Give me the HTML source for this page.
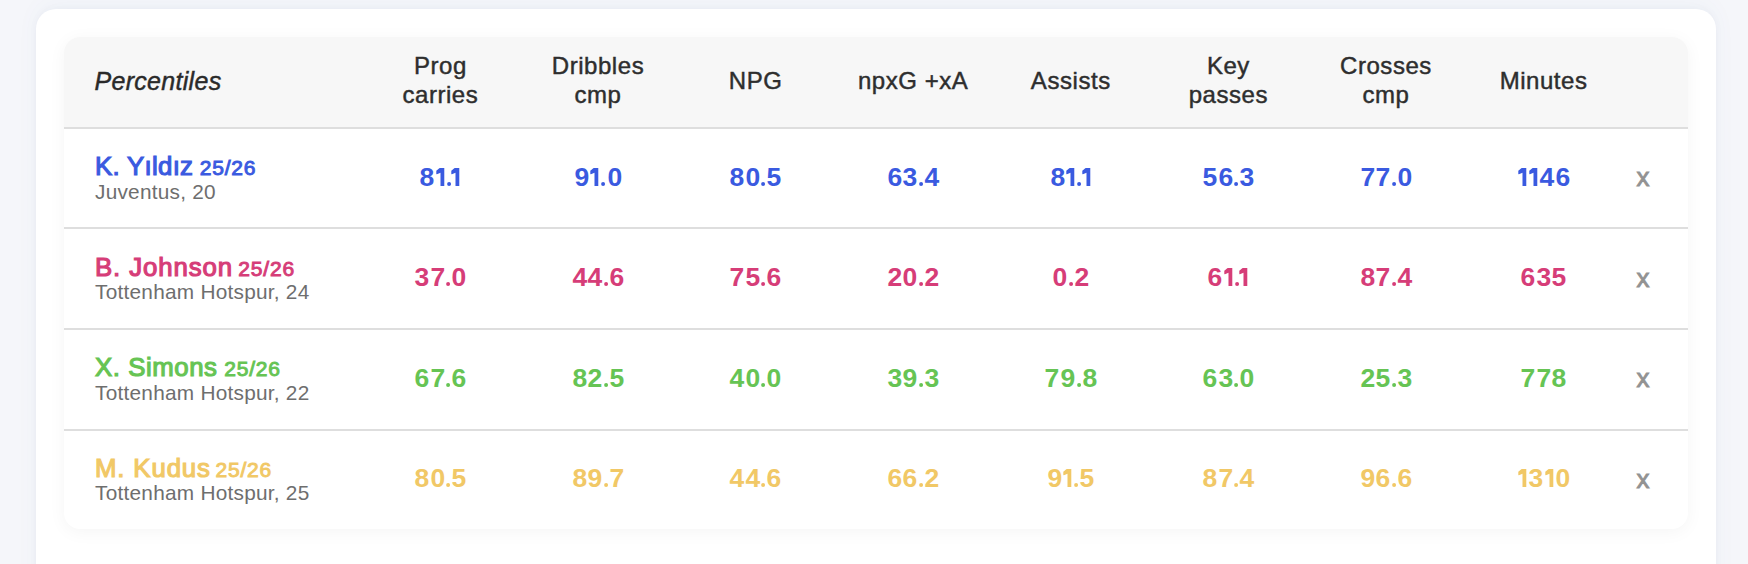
<!DOCTYPE html>
<html><head><meta charset="utf-8">
<style>
*{box-sizing:border-box;margin:0;padding:0}
html,body{width:1748px;height:564px;overflow:hidden}
body{background:#f5f6fa;font-family:"Liberation Sans",sans-serif;position:relative}
.outer{position:absolute;left:36px;top:9px;width:1680px;height:640px;background:#fff;border-radius:20px;box-shadow:0 0 8px rgba(40,40,90,0.035),0 -6px 24px rgba(30,120,170,0.035)}
.tbl{position:absolute;left:64px;top:37px;width:1624px;height:491.5px;background:#fff;border-radius:16px;overflow:hidden;box-shadow:0 3px 18px rgba(0,0,0,0.045)}
.hd{position:absolute;left:0;top:0;width:1624px;height:90px;background:#f7f7f7}
.ln{position:absolute;left:0;width:1624px;height:2px;background:#dedede}
.t{position:absolute;white-space:nowrap}
.h{font-size:24px;line-height:28.8px;color:#2e2e2e;text-align:center;width:157.6px;letter-spacing:0.55px;-webkit-text-stroke:0.45px #2e2e2e}
.pct{font-style:italic;font-size:25px;letter-spacing:0.3px;color:#2a2a2a;left:30.5px;line-height:30px;-webkit-text-stroke:0.45px #2a2a2a}
.nm{left:31px;font-size:25.8px;font-weight:400;-webkit-text-stroke:1.15px currentColor;letter-spacing:0.55px;line-height:30px}
.nm .s{font-size:21px;font-weight:400;-webkit-text-stroke:0.95px currentColor;letter-spacing:0.8px;margin-left:-1px}
.cl{left:31px;font-size:20.8px;letter-spacing:0.25px;color:#6e6e6e;line-height:24px}
.v{font-size:25px;font-weight:700;text-align:center;width:157.6px;line-height:30px}
.v .d{display:inline-block;width:15.6px;text-align:center;transform:scaleX(1.06)}
.v .p{display:inline-block;width:6.2px;text-align:center}
.v .o{fill:currentColor;vertical-align:baseline}
.x{font-size:26px;font-weight:400;-webkit-text-stroke:0.85px #929292;color:#929292;width:40px;text-align:center;line-height:30px}
.c1{color:#3a5ae0}.c2{color:#d63d78}.c3{color:#66c454}.c4{color:#f1c866}
</style></head><body>
<div class="outer"></div>
<div class="tbl">
 <div class="hd">
 <div class="t pct" style="top:28.64px">Percentiles</div>
 <div class="t h" style="left:297.60px;top:15.08px">Prog<br>carries</div>
 <div class="t h" style="left:455.20px;top:15.08px">Dribbles<br>cmp</div>
 <div class="t h" style="left:612.80px;top:30.48px">NPG</div>
 <div class="t h" style="left:770.40px;top:30.48px">npxG +xA</div>
 <div class="t h" style="left:928.00px;top:30.48px">Assists</div>
 <div class="t h" style="left:1085.60px;top:15.08px">Key<br>passes</div>
 <div class="t h" style="left:1243.20px;top:15.08px">Crosses<br>cmp</div>
 <div class="t h" style="left:1400.80px;top:30.48px">Minutes</div>
 </div>
 <div class="ln" style="top:90px"></div>
 <div class="ln" style="top:190px"></div>
 <div class="ln" style="top:291px"></div>
 <div class="ln" style="top:392px"></div>
 <div class="t nm c1" style="top:114.26px"><span style="letter-spacing:0.30px">K. Yıldız </span><span class="s" style="margin-left:-1.0px">25/26</span></div>
 <div class="t cl" style="top:142.69px">Juventus, 20</div>
 <div class="t v c1" style="left:297.60px;top:125.14px"><span class="d">8</span><svg class="o" width="11.2" height="18" viewBox="0 0 11.2 18"><path d="M1.3,2.8L4.3,0.2Q4.5,0 4.8,0H9.3V18H5.5V4.7L1.9,6.2Q1.3,6.4 1.3,5.8Z"/></svg><svg class="o" style="margin-right:-1.8px" width="6.2" height="4" viewBox="0 0 6.2 4"><circle cx="3.1" cy="2" r="2"/></svg><svg class="o" width="11.2" height="18" viewBox="0 0 11.2 18"><path d="M1.3,2.8L4.3,0.2Q4.5,0 4.8,0H9.3V18H5.5V4.7L1.9,6.2Q1.3,6.4 1.3,5.8Z"/></svg></div>
 <div class="t v c1" style="left:455.20px;top:125.14px"><span class="d">9</span><svg class="o" width="11.2" height="18" viewBox="0 0 11.2 18"><path d="M1.3,2.8L4.3,0.2Q4.5,0 4.8,0H9.3V18H5.5V4.7L1.9,6.2Q1.3,6.4 1.3,5.8Z"/></svg><svg class="o" width="6.2" height="4" viewBox="0 0 6.2 4"><circle cx="3.1" cy="2" r="2"/></svg><span class="d">0</span></div>
 <div class="t v c1" style="left:612.80px;top:125.14px"><span class="d">8</span><span class="d">0</span><svg class="o" width="6.2" height="4" viewBox="0 0 6.2 4"><circle cx="3.1" cy="2" r="2"/></svg><span class="d">5</span></div>
 <div class="t v c1" style="left:770.40px;top:125.14px"><span class="d">6</span><span class="d">3</span><svg class="o" width="6.2" height="4" viewBox="0 0 6.2 4"><circle cx="3.1" cy="2" r="2"/></svg><span class="d">4</span></div>
 <div class="t v c1" style="left:928.00px;top:125.14px"><span class="d">8</span><svg class="o" width="11.2" height="18" viewBox="0 0 11.2 18"><path d="M1.3,2.8L4.3,0.2Q4.5,0 4.8,0H9.3V18H5.5V4.7L1.9,6.2Q1.3,6.4 1.3,5.8Z"/></svg><svg class="o" style="margin-right:-1.8px" width="6.2" height="4" viewBox="0 0 6.2 4"><circle cx="3.1" cy="2" r="2"/></svg><svg class="o" width="11.2" height="18" viewBox="0 0 11.2 18"><path d="M1.3,2.8L4.3,0.2Q4.5,0 4.8,0H9.3V18H5.5V4.7L1.9,6.2Q1.3,6.4 1.3,5.8Z"/></svg></div>
 <div class="t v c1" style="left:1085.60px;top:125.14px"><span class="d">5</span><span class="d">6</span><svg class="o" width="6.2" height="4" viewBox="0 0 6.2 4"><circle cx="3.1" cy="2" r="2"/></svg><span class="d">3</span></div>
 <div class="t v c1" style="left:1243.20px;top:125.14px"><span class="d">7</span><span class="d">7</span><svg class="o" width="6.2" height="4" viewBox="0 0 6.2 4"><circle cx="3.1" cy="2" r="2"/></svg><span class="d">0</span></div>
 <div class="t v c1" style="left:1400.80px;top:125.14px"><svg class="o" width="11.2" height="18" viewBox="0 0 11.2 18"><path d="M1.3,2.8L4.3,0.2Q4.5,0 4.8,0H9.3V18H5.5V4.7L1.9,6.2Q1.3,6.4 1.3,5.8Z"/></svg><svg class="o" width="11.2" height="18" viewBox="0 0 11.2 18"><path d="M1.3,2.8L4.3,0.2Q4.5,0 4.8,0H9.3V18H5.5V4.7L1.9,6.2Q1.3,6.4 1.3,5.8Z"/></svg><span class="d">4</span><span class="d">6</span></div>
 <div class="t x" style="left:1559.00px;top:125.29px">x</div>
 <div class="t nm c2" style="top:214.86px"><span style="letter-spacing:0.88px">B. Johnson </span><span class="s" style="margin-left:-2.6px">25/26</span></div>
 <div class="t cl" style="top:243.29px">Tottenham Hotspur, 24</div>
 <div class="t v c2" style="left:297.60px;top:225.47px"><span class="d">3</span><span class="d">7</span><svg class="o" width="6.2" height="4" viewBox="0 0 6.2 4"><circle cx="3.1" cy="2" r="2"/></svg><span class="d">0</span></div>
 <div class="t v c2" style="left:455.20px;top:225.47px"><span class="d">4</span><span class="d">4</span><svg class="o" width="6.2" height="4" viewBox="0 0 6.2 4"><circle cx="3.1" cy="2" r="2"/></svg><span class="d">6</span></div>
 <div class="t v c2" style="left:612.80px;top:225.47px"><span class="d">7</span><span class="d">5</span><svg class="o" width="6.2" height="4" viewBox="0 0 6.2 4"><circle cx="3.1" cy="2" r="2"/></svg><span class="d">6</span></div>
 <div class="t v c2" style="left:770.40px;top:225.47px"><span class="d">2</span><span class="d">0</span><svg class="o" width="6.2" height="4" viewBox="0 0 6.2 4"><circle cx="3.1" cy="2" r="2"/></svg><span class="d">2</span></div>
 <div class="t v c2" style="left:928.00px;top:225.47px"><span class="d">0</span><svg class="o" width="6.2" height="4" viewBox="0 0 6.2 4"><circle cx="3.1" cy="2" r="2"/></svg><span class="d">2</span></div>
 <div class="t v c2" style="left:1085.60px;top:225.47px"><span class="d">6</span><svg class="o" width="11.2" height="18" viewBox="0 0 11.2 18"><path d="M1.3,2.8L4.3,0.2Q4.5,0 4.8,0H9.3V18H5.5V4.7L1.9,6.2Q1.3,6.4 1.3,5.8Z"/></svg><svg class="o" style="margin-right:-1.8px" width="6.2" height="4" viewBox="0 0 6.2 4"><circle cx="3.1" cy="2" r="2"/></svg><svg class="o" width="11.2" height="18" viewBox="0 0 11.2 18"><path d="M1.3,2.8L4.3,0.2Q4.5,0 4.8,0H9.3V18H5.5V4.7L1.9,6.2Q1.3,6.4 1.3,5.8Z"/></svg></div>
 <div class="t v c2" style="left:1243.20px;top:225.47px"><span class="d">8</span><span class="d">7</span><svg class="o" width="6.2" height="4" viewBox="0 0 6.2 4"><circle cx="3.1" cy="2" r="2"/></svg><span class="d">4</span></div>
 <div class="t v c2" style="left:1400.80px;top:225.47px"><span class="d">6</span><span class="d">3</span><span class="d">5</span></div>
 <div class="t x" style="left:1559.00px;top:225.89px">x</div>
 <div class="t nm c3" style="top:315.46px"><span style="letter-spacing:0.55px">X. Simons </span><span class="s" style="margin-left:-1.0px">25/26</span></div>
 <div class="t cl" style="top:343.89px">Tottenham Hotspur, 22</div>
 <div class="t v c3" style="left:297.60px;top:325.80px"><span class="d">6</span><span class="d">7</span><svg class="o" width="6.2" height="4" viewBox="0 0 6.2 4"><circle cx="3.1" cy="2" r="2"/></svg><span class="d">6</span></div>
 <div class="t v c3" style="left:455.20px;top:325.80px"><span class="d">8</span><span class="d">2</span><svg class="o" width="6.2" height="4" viewBox="0 0 6.2 4"><circle cx="3.1" cy="2" r="2"/></svg><span class="d">5</span></div>
 <div class="t v c3" style="left:612.80px;top:325.80px"><span class="d">4</span><span class="d">0</span><svg class="o" width="6.2" height="4" viewBox="0 0 6.2 4"><circle cx="3.1" cy="2" r="2"/></svg><span class="d">0</span></div>
 <div class="t v c3" style="left:770.40px;top:325.80px"><span class="d">3</span><span class="d">9</span><svg class="o" width="6.2" height="4" viewBox="0 0 6.2 4"><circle cx="3.1" cy="2" r="2"/></svg><span class="d">3</span></div>
 <div class="t v c3" style="left:928.00px;top:325.80px"><span class="d">7</span><span class="d">9</span><svg class="o" width="6.2" height="4" viewBox="0 0 6.2 4"><circle cx="3.1" cy="2" r="2"/></svg><span class="d">8</span></div>
 <div class="t v c3" style="left:1085.60px;top:325.80px"><span class="d">6</span><span class="d">3</span><svg class="o" width="6.2" height="4" viewBox="0 0 6.2 4"><circle cx="3.1" cy="2" r="2"/></svg><span class="d">0</span></div>
 <div class="t v c3" style="left:1243.20px;top:325.80px"><span class="d">2</span><span class="d">5</span><svg class="o" width="6.2" height="4" viewBox="0 0 6.2 4"><circle cx="3.1" cy="2" r="2"/></svg><span class="d">3</span></div>
 <div class="t v c3" style="left:1400.80px;top:325.80px"><span class="d">7</span><span class="d">7</span><span class="d">8</span></div>
 <div class="t x" style="left:1559.00px;top:326.49px">x</div>
 <div class="t nm c4" style="top:416.06px"><span style="letter-spacing:0.85px">M. Kudus </span><span class="s" style="margin-left:-3.3px">25/26</span></div>
 <div class="t cl" style="top:444.49px">Tottenham Hotspur, 25</div>
 <div class="t v c4" style="left:297.60px;top:426.13px"><span class="d">8</span><span class="d">0</span><svg class="o" width="6.2" height="4" viewBox="0 0 6.2 4"><circle cx="3.1" cy="2" r="2"/></svg><span class="d">5</span></div>
 <div class="t v c4" style="left:455.20px;top:426.13px"><span class="d">8</span><span class="d">9</span><svg class="o" width="6.2" height="4" viewBox="0 0 6.2 4"><circle cx="3.1" cy="2" r="2"/></svg><span class="d">7</span></div>
 <div class="t v c4" style="left:612.80px;top:426.13px"><span class="d">4</span><span class="d">4</span><svg class="o" width="6.2" height="4" viewBox="0 0 6.2 4"><circle cx="3.1" cy="2" r="2"/></svg><span class="d">6</span></div>
 <div class="t v c4" style="left:770.40px;top:426.13px"><span class="d">6</span><span class="d">6</span><svg class="o" width="6.2" height="4" viewBox="0 0 6.2 4"><circle cx="3.1" cy="2" r="2"/></svg><span class="d">2</span></div>
 <div class="t v c4" style="left:928.00px;top:426.13px"><span class="d">9</span><svg class="o" width="11.2" height="18" viewBox="0 0 11.2 18"><path d="M1.3,2.8L4.3,0.2Q4.5,0 4.8,0H9.3V18H5.5V4.7L1.9,6.2Q1.3,6.4 1.3,5.8Z"/></svg><svg class="o" width="6.2" height="4" viewBox="0 0 6.2 4"><circle cx="3.1" cy="2" r="2"/></svg><span class="d">5</span></div>
 <div class="t v c4" style="left:1085.60px;top:426.13px"><span class="d">8</span><span class="d">7</span><svg class="o" width="6.2" height="4" viewBox="0 0 6.2 4"><circle cx="3.1" cy="2" r="2"/></svg><span class="d">4</span></div>
 <div class="t v c4" style="left:1243.20px;top:426.13px"><span class="d">9</span><span class="d">6</span><svg class="o" width="6.2" height="4" viewBox="0 0 6.2 4"><circle cx="3.1" cy="2" r="2"/></svg><span class="d">6</span></div>
 <div class="t v c4" style="left:1400.80px;top:426.13px"><svg class="o" width="11.2" height="18" viewBox="0 0 11.2 18"><path d="M1.3,2.8L4.3,0.2Q4.5,0 4.8,0H9.3V18H5.5V4.7L1.9,6.2Q1.3,6.4 1.3,5.8Z"/></svg><span class="d">3</span><svg class="o" width="11.2" height="18" viewBox="0 0 11.2 18"><path d="M1.3,2.8L4.3,0.2Q4.5,0 4.8,0H9.3V18H5.5V4.7L1.9,6.2Q1.3,6.4 1.3,5.8Z"/></svg><span class="d">0</span></div>
 <div class="t x" style="left:1559.00px;top:427.09px">x</div>
</div>
</body></html>
